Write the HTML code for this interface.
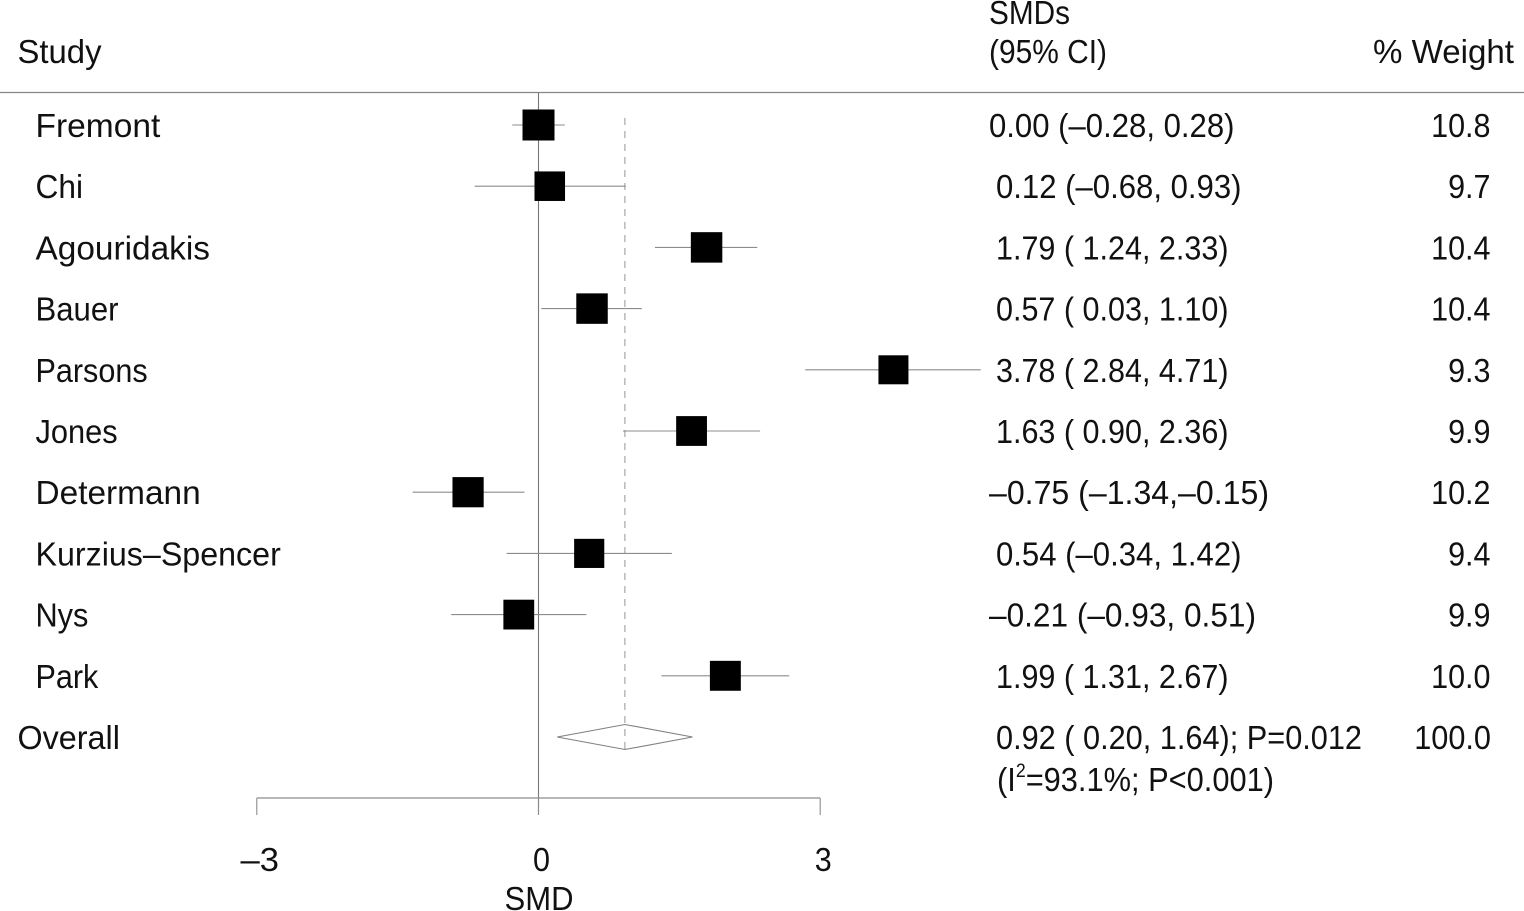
<!DOCTYPE html>
<html lang="en">
<head>
<meta charset="utf-8">
<title>Forest plot of SMDs</title>
<style>
html,body{margin:0;padding:0;background:#fff;}
svg{display:block;}
text{font-family:"Liberation Sans",sans-serif;font-size:33px;fill:#111;}
</style>
</head>
<body>
<svg id="chart" xmlns="http://www.w3.org/2000/svg" width="1524" height="911" viewBox="0 0 1524 911">
  <rect x="0" y="0" width="1524" height="911" fill="#fff"/>
  <text x="17.5" y="63" textLength="84" lengthAdjust="spacingAndGlyphs">Study</text>
  <text x="989" y="24" textLength="81" lengthAdjust="spacingAndGlyphs">SMDs</text>
  <text x="989" y="63" textLength="118" lengthAdjust="spacingAndGlyphs">(95% CI)</text>
  <text x="1373" y="63" textLength="141" lengthAdjust="spacingAndGlyphs">% Weight</text>
  <line x1="0" y1="92.5" x2="1524" y2="92.5" stroke="#858585" stroke-width="1.2"/>
  <text x="997" y="791" textLength="277" lengthAdjust="spacingAndGlyphs">(I<tspan dy="-14" font-size="19" style="font-size:19px">2</tspan><tspan dy="14">=93.1%; P&lt;0.001)</tspan></text>
  <text x="539" y="910" text-anchor="middle" textLength="69" lengthAdjust="spacingAndGlyphs">SMD</text>
  <g id="marks"></g>
</svg>
<script>
const studies = ["Fremont","Chi","Agouridakis","Bauer","Parsons","Jones","Determann","Kurzius–Spencer","Nys","Park"];
const smdValues = [0.00,0.12,1.79,0.57,3.78,1.63,-0.75,0.54,-0.21,1.99];
const lowerValues = [-0.28,-0.68,1.24,0.03,2.84,0.90,-1.34,-0.34,-0.93,1.31];
const upperValues = [0.28,0.93,2.33,1.10,4.71,2.36,-0.15,1.42,0.51,2.67];
const weightValues = [10.8,9.7,10.4,10.4,9.3,9.9,10.2,9.4,9.9,10.0];
const ciLabels = ["0.00 (–0.28, 0.28)","0.12 (–0.68, 0.93)","1.79 ( 1.24, 2.33)","0.57 ( 0.03, 1.10)","3.78 ( 2.84, 4.71)","1.63 ( 0.90, 2.36)","–0.75 (–1.34,–0.15)","0.54 (–0.34, 1.42)","–0.21 (–0.93, 0.51)","1.99 ( 1.31, 2.67)"];
const weightLabels = ["10.8","9.7","10.4","10.4","9.3","9.9","10.2","9.4","9.9","10.0"];
const overallName = "Overall";
const overallSmd = 0.92;
const overallLower = 0.20;
const overallUpper = 1.64;
const overallCiLabel = "0.92 ( 0.20, 1.64); P=0.012";
const overallWeightLabel = "100.0";
const axisTicks = [-3,0,3];
const axisTickLabels = ["–3","0","3"];

const NS = "http://www.w3.org/2000/svg";
const root = document.getElementById("marks");
const xScale = function (v) { return 538.5 + v * 93.9; };
const yScale = function (i) { return 125 + i * 61.2; };
const boxSize = function (w) { return 30 + (w - 9.3) * 1.33; };

function make(tag, attrs) {
  const el = document.createElementNS(NS, tag);
  for (const k in attrs) { el.setAttribute(k, attrs[k]); }
  root.appendChild(el);
  return el;
}
function label(str, x, y, anchor, squeeze, dashExtra) {
  const el = make("text", { x: x, y: y, "text-anchor": anchor });
  el.textContent = str;
  const natural = el.getComputedTextLength();
  const dashes = (str.match(/–/g) || []).length;
  const target = natural * squeeze + dashes * (dashExtra || 0);
  el.setAttribute("textLength", target.toFixed(1));
  el.setAttribute("lengthAdjust", "spacingAndGlyphs");
  return el;
}
function nameSqueeze(name) {
  const fit = { "Fremont": 1.016, "Chi": 0.96, "Agouridakis": 1.012, "Bauer": 0.943, "Parsons": 0.926, "Jones": 0.932, "Determann": 1.012, "Kurzius–Spencer": 0.976, "Nys": 0.93, "Park": 0.926, "Overall": 0.98 };
  return fit[name] || 1;
}

const zeroLine = make("line", { x1: xScale(0), y1: 93, x2: xScale(0), y2: 815, stroke: "#777", "stroke-width": 1.1 });



const overallLine = make("line", { x1: xScale(overallSmd), y1: 118, x2: xScale(overallSmd), y2: 750, stroke: "#a6a6a6", "stroke-width": 1.2, "stroke-dasharray": "7 6" });



studies.forEach(function (name, i) {
  const y = yScale(i);
  const nameText = label(name, 35.5, y + 12, "start", nameSqueeze(name), 0);
  
  

  const ci = make("line", { x1: xScale(lowerValues[i]), y1: y, x2: xScale(upperValues[i]), y2: y, stroke: "#8c8c8c", "stroke-width": 1.1 });
  
  

  const s = boxSize(weightValues[i]);
  const box = make("rect", { x: xScale(smdValues[i]) - s / 2, y: y - (s - 1) / 2, width: s, height: s - 1, fill: "#000" });
  
  

  const ciText = label(ciLabels[i], smdValues[i] > 0 ? 996 : 989, y + 12, "start", 0.925, 4.5);
  
  

  const weightText = label(weightLabels[i], 1490.5, y + 12, "end", 0.925, 0);
  
  
});

const overallY = yScale(studies.length);
const overallNameText = label(overallName, 17.5, overallY + 12, "start", nameSqueeze(overallName), 0);



const diamondPoints = [
  [xScale(overallLower), overallY],
  [xScale(overallSmd), overallY - 12.5],
  [xScale(overallUpper), overallY],
  [xScale(overallSmd), overallY + 12.5]
].map(function (p) { return p.join(","); }).join(" ");
const diamond = make("polygon", { points: diamondPoints, fill: "none", stroke: "#808080", "stroke-width": 1.1 });



const overallCiText = label(overallCiLabel, 996, overallY + 12, "start", 0.93, 0);



const overallWeightText = label(overallWeightLabel, 1491, overallY + 12, "end", 0.93, 0);



const axisLine = make("line", { x1: xScale(axisTicks[0]), y1: 798, x2: xScale(axisTicks[axisTicks.length - 1]), y2: 798, stroke: "#8c8c8c", "stroke-width": 1.2 });



axisTicks.forEach(function (t, i) {
  const tick = make("line", { x1: xScale(t), y1: 798, x2: xScale(t), y2: 815, stroke: "#8c8c8c", "stroke-width": 1.1 });
  
  

  const tickText = label(axisTickLabels[i], xScale(t) + 3, 871, "middle", 0.925, 4.5);
  
  
});
</script>
</body>
</html>
